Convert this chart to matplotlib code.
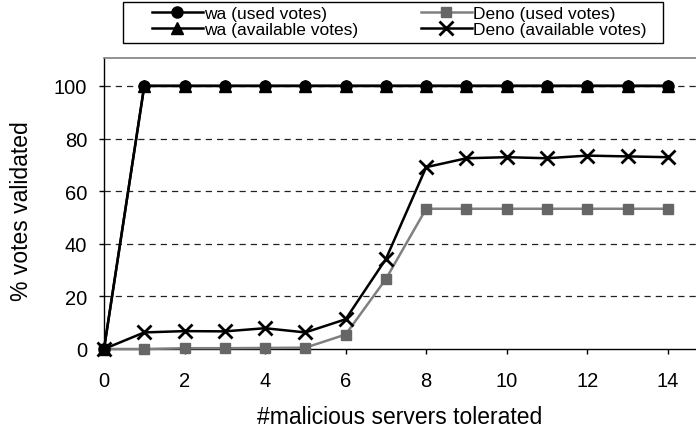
import matplotlib.pyplot as plt
from matplotlib.patches import Rectangle

plt.rcParams['font.family'] = ['Liberation Sans', 'DejaVu Sans']

servers = list(range(15))
wa_used = [0, 100, 100, 100, 100, 100, 100, 100, 100, 100, 100, 100, 100, 100, 100]
wa_avail = [0, 100, 100, 100, 100, 100, 100, 100, 100, 100, 100, 100, 100, 100, 100]
deno_used = [0, 0, 0.3, 0.3, 0.4, 0.5, 5.5, 26.6, 53.3, 53.3, 53.3, 53.3, 53.3, 53.3, 53.3]
deno_avail = [0, 6.3, 6.8, 6.7, 7.9, 6.3, 11.3, 34.2, 69.1, 72.5, 72.9, 72.5, 73.5, 73.2, 72.9]

fig = plt.figure(figsize=(6.96, 4.35), dpi=100)
ax = fig.add_axes([104/696, 85/435, 596/696, 291/435])

for y in [20, 40, 60, 80, 100]:
    ax.axhline(y, color='#222222', lw=0.9, ls=(0, (5, 4)), zorder=1)

l1, = ax.plot(servers, wa_used, color='black', lw=1.8, marker='o', ms=8,
              clip_on=False, zorder=4, label='wa (used votes)')
l2, = ax.plot(servers, wa_avail, color='black', lw=1.8, marker='^', ms=9,
              clip_on=False, zorder=5, label='wa (available votes)')
l3, = ax.plot(servers, deno_used, color='#808080', lw=1.8, marker='s', ms=6.5,
              mfc='#666666', mec='#666666', clip_on=False, zorder=3,
              label='Deno (used votes)')
l4, = ax.plot(servers, deno_avail, color='black', lw=1.8, marker='x', ms=10,
              mew=2, clip_on=False, zorder=4, label='Deno (available votes)')

ax.set_xlim(0, 14.8)
ax.set_ylim(0, 110.6)
ax.set_xticks(range(0, 15, 2))
ax.set_yticks(range(0, 101, 20))
ax.tick_params(axis='both', labelsize=14.5, direction='out', length=3.6, width=1)
ax.tick_params(axis='x', pad=12)
ax.tick_params(axis='y', pad=8.5)

for side in ['left', 'bottom']:
    ax.spines[side].set_color('black')
    ax.spines[side].set_linewidth(1)
ax.spines['top'].set_color('#808080')
ax.spines['top'].set_linewidth(1.2)
ax.spines['right'].set_visible(False)

ax.set_xlabel('#malicious servers tolerated', fontsize=16.5)
ax.set_ylabel('% votes validated', fontsize=16.5)
ax.xaxis.set_label_coords((400 - 104) / 596, -(418 - 350) / 291)
ax.yaxis.set_label_coords(-(104 - 21) / 596, (350 - 211) / 291)
ax.xaxis.label.set_va('center')
ax.yaxis.label.set_va('center')

# legend box drawn separately so the padding can differ per side
fig.patches.append(Rectangle((123/696, 1 - 44/435), 540/696, 41/435,
                             transform=fig.transFigure, fill=False,
                             edgecolor='black', lw=1))
leg = fig.legend(handles=[l1, l2, l3, l4], ncol=2, loc='upper left',
                 bbox_to_anchor=(152/696, 1 - 7/435), fontsize=12.5,
                 frameon=False, handlelength=2.93, handletextpad=0.08,
                 columnspacing=3.6, labelspacing=0.05, borderpad=0,
                 borderaxespad=0)

fig.savefig('out.png', dpi=100)
